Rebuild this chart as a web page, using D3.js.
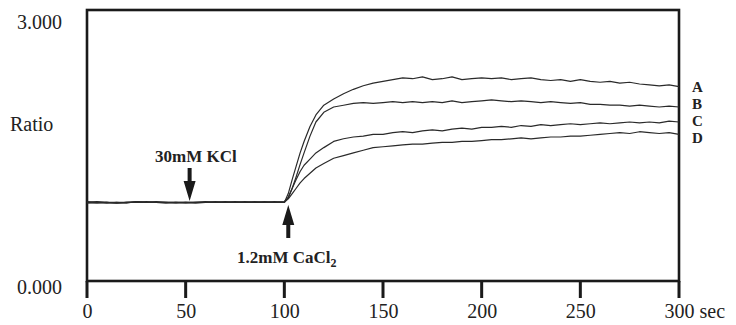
<!DOCTYPE html>
<html lang="en">
<head>
    <meta charset="UTF-8">
    <script src="https://d3js.org/d3.v7.min.js"></script>
    <style>
        body { margin: 0; background: #fff; }
        text { font-family: "Liberation Serif", "Times New Roman", serif; fill: #222; }
        .trace { fill: none; stroke: #2a2a2a; stroke-width: 1.2px; stroke-linejoin: round; }
        .ann { font-weight: bold; font-size: 17px; }
        .series-label { font-weight: bold; font-size: 15px; }
    </style>
</head>
<body>
<script type="text/javascript">
    // time points (sec)
    var times = [0,5,10,15,20,25,30,35,40,45,50,55,60,65,70,75,80,85,90,95,100,
        102,104,106,108,110,113,116,120,125,130,135,140,145,
        150,155,160,165,170,175,180,185,190,195,200,205,210,215,220,225,
        230,235,240,245,250,255,260,265,270,275,280,285,290,295,300];

    var baseA = [0.89,0.88,0.89,0.88,0.89,0.89,0.90,0.89,0.89,0.88,0.89,0.89,0.89,0.89,0.90,0.89,0.89,0.89,0.89,0.90,0.89];
    var baseB = [0.90,0.89,0.88,0.89,0.89,0.90,0.89,0.89,0.88,0.89,0.89,0.89,0.90,0.89,0.89,0.89,0.90,0.89,0.89,0.89,0.89];
    var baseC = [0.89,0.90,0.89,0.88,0.89,0.89,0.89,0.90,0.89,0.89,0.88,0.89,0.89,0.89,0.89,0.90,0.89,0.89,0.90,0.89,0.90];
    var baseD = [0.88,0.89,0.89,0.89,0.88,0.90,0.89,0.89,0.89,0.89,0.89,0.88,0.89,0.90,0.89,0.89,0.89,0.90,0.89,0.89,0.89];

    var riseA = [0.99,1.15,1.30,1.45,1.58,1.75,1.88,1.99,2.06,2.12,2.17,2.21,2.24,
        2.26,2.28,2.30,2.29,2.31,2.28,2.29,2.31,2.28,2.29,2.30,2.29,2.30,2.28,2.29,2.30,
        2.28,2.27,2.28,2.26,2.28,2.26,2.25,2.26,2.24,2.25,2.23,2.22,2.21,2.22,2.20];
    var riseB = [0.95,1.05,1.18,1.32,1.45,1.64,1.80,1.91,1.97,1.99,2.01,2.02,2.01,
        2.02,2.03,2.02,2.03,2.02,2.03,2.02,2.04,2.02,2.03,2.04,2.05,2.04,2.03,2.04,2.03,
        2.02,2.03,2.02,2.01,2.02,2.00,2.00,1.99,1.99,1.98,1.99,1.98,1.97,1.98,1.97];
    var riseC = [0.94,1.05,1.15,1.24,1.31,1.38,1.45,1.51,1.58,1.61,1.63,1.64,1.66,
        1.66,1.68,1.69,1.68,1.70,1.71,1.70,1.72,1.73,1.72,1.74,1.74,1.75,1.74,1.76,1.75,
        1.77,1.76,1.77,1.78,1.77,1.78,1.79,1.78,1.79,1.80,1.79,1.80,1.79,1.81,1.80];
    var riseD = [0.93,0.99,1.05,1.11,1.16,1.22,1.28,1.33,1.39,1.42,1.45,1.48,1.51,
        1.52,1.53,1.54,1.55,1.55,1.56,1.57,1.57,1.58,1.58,1.59,1.60,1.60,1.61,1.62,1.61,
        1.62,1.63,1.63,1.64,1.64,1.65,1.66,1.67,1.68,1.67,1.69,1.68,1.67,1.68,1.66];

    var seriesNames = ["A", "B", "C", "D"];
    var seriesValues = [baseA.concat(riseA), baseB.concat(riseB), baseC.concat(riseC), baseD.concat(riseD)];

    var xTicks = [0, 50, 100, 150, 200, 250, 300];
    var xTickLabels = ["0", "50", "100", "150", "200", "250", "300 sec"];
    var yTicks = [0, 3];
    var yTickLabels = ["0.000", "3.000"];

    var width = 736, height = 325;
    var plotL = 87, plotR = 679, plotT = 10, plotB = 281;

    var svg = d3.select("body").append("svg")
        .attr("width", width)
        .attr("height", height);

    var x = d3.scaleLinear().domain([0, 300]).range([plotL, plotR]);
    var y = d3.scaleLinear().domain([0, 3]).range([plotB, 16]);

    // frame
    svg.append("rect")
        .attr("x", plotL).attr("y", plotT)
        .attr("width", plotR - plotL).attr("height", plotB - plotT)
        .attr("fill", "none").attr("stroke", "#1a1a1a").attr("stroke-width", 2.6);

    // x ticks hanging below the frame
    svg.selectAll(".xtick")
        .data(xTicks)
        .enter().append("rect")
        .attr("class", "xtick")
        .attr("x", function (d) { return x(d) - 1.5; })
        .attr("y", plotB)
        .attr("width", 3)
        .attr("height", 17)
        .attr("fill", "#1a1a1a");

    // x axis labels
    var xAxis = d3.axisBottom(x)
        .tickValues(xTicks)
        .tickSize(17)
        .tickSizeOuter(0)
        .tickPadding(6)
        .tickFormat(function (d, i) { return xTickLabels[i]; });

    var gx = svg.append("g")
        .attr("transform", "translate(0," + plotB + ")")
        .call(xAxis);
    gx.select(".domain").remove();
    gx.selectAll(".tick line").remove();
    gx.selectAll(".tick text")
        .style("font-family", "'Liberation Serif', serif")
        .style("font-size", "20px")
        .attr("fill", "#222");
    // "300 sec": keep the number centred on the tick
    gx.selectAll(".tick text").filter(function (d) { return d === 300; })
        .attr("text-anchor", "start")
        .attr("x", -15);

    // y labels
    svg.selectAll(".ylab")
        .data(yTicks)
        .enter().append("text")
        .attr("class", "ylab")
        .attr("x", 62)
        .attr("y", function (d) { return y(d) + 13; })
        .attr("text-anchor", "end")
        .style("font-size", "20px")
        .text(function (d, i) { return yTickLabels[i]; });

    svg.append("text")
        .attr("x", 10).attr("y", 131)
        .style("font-size", "20px")
        .text("Ratio");

    // traces
    var line = d3.line()
        .x(function (d, i) { return x(times[i]); })
        .y(function (d) { return y(d); });

    svg.selectAll(".trace")
        .data(seriesValues)
        .enter().append("path")
        .attr("class", "trace")
        .attr("d", line);

    // series labels
    svg.selectAll(".series-label")
        .data(seriesNames)
        .enter().append("text")
        .attr("class", "series-label")
        .attr("x", 692)
        .attr("y", function (d, i) { return 92 + i * 17; })
        .text(function (d) { return d; });

    // annotations
    function arrow(t, tipY, dir) {
        var cx = x(t), s = dir === "down" ? -1 : 1;
        var headLen = 20, shaft = 13, hw = 6, sw = 2;
        var baseY = tipY + s * headLen, endY = baseY + s * shaft;
        var pts = [[cx, tipY], [cx + hw, baseY], [cx + sw, baseY], [cx + sw, endY],
            [cx - sw, endY], [cx - sw, baseY], [cx - hw, baseY]];
        svg.append("path")
            .attr("d", "M" + pts.join("L") + "Z")
            .attr("fill", "#1a1a1a");
    }

    arrow(52, y(0.905), "down");
    svg.append("text").attr("class", "ann")
        .attr("x", 155).attr("y", 162)
        .text("30mM KCl");

    arrow(102, y(0.86), "up");
    var ca = svg.append("text").attr("class", "ann")
        .attr("x", 237).attr("y", 263);
    ca.append("tspan").text("1.2mM CaCl");
    ca.append("tspan").attr("dy", 4).style("font-size", "12px").text("2");
</script>
</body>
</html>
